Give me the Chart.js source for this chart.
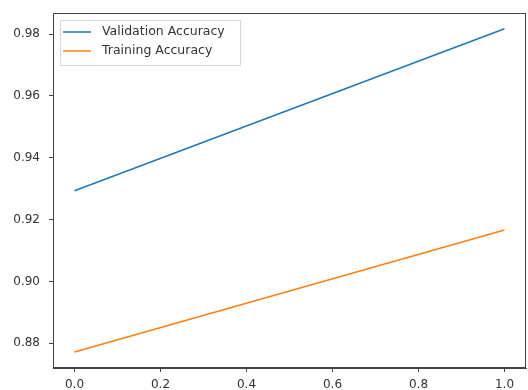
<!DOCTYPE html>
<html>
<head>
<meta charset="utf-8">
<script src="https://cdn.jsdelivr.net/npm/chart.js@4/dist/chart.umd.min.js"></script>
<style>
  html, body { margin: 0; padding: 0; background: #fff; }
  #wrap { width: 528px; height: 390px; }
</style>
</head>
<body>
<div id="wrap"><canvas id="accChart" width="528" height="390"></canvas></div>
<script>
// epochs and accuracy values
const epochs = [0.0, 1.0];
const valAcc = [0.9293, 0.9817];
const trainAcc = [0.8772, 0.9166];
const xTicks = [0.0, 0.2, 0.4, 0.6, 0.8, 1.0];
const yTicks = [0.88, 0.90, 0.92, 0.94, 0.96, 0.98];

const axisColor = '#444';
const textColor = '#333';

// box round the plot area plus a matplotlib style legend inside it
const framePlugin = {
    id: 'frame',
    afterDatasetsDraw(chart) {
        const ctx = chart.ctx;
        const a = chart.chartArea;
        ctx.save();
        ctx.strokeStyle = axisColor;
        ctx.lineWidth = 1;
        ctx.strokeRect(a.left + 0.5, a.top + 0.5, a.right - a.left - 1, a.bottom - a.top - 1);

        // legend
        const bx = a.left + 7, by = a.top + 7, bw = 180, bh = 45;
        ctx.fillStyle = 'rgba(255,255,255,0.8)';
        ctx.strokeStyle = '#d6d6d6';
        ctx.beginPath();
        ctx.rect(bx + 0.5, by + 0.5, bw, bh);
        ctx.fill();
        ctx.stroke();
        ctx.font = '12.5px "DejaVu Sans"';
        ctx.textBaseline = 'middle';
        chart.data.datasets.forEach((ds, i) => {
            const y = by + 12 + i * 19;
            ctx.strokeStyle = ds.borderColor;
            ctx.lineWidth = 1.5;
            ctx.beginPath();
            ctx.moveTo(bx + 3, y);
            ctx.lineTo(bx + 31, y);
            ctx.stroke();
            ctx.fillStyle = textColor;
            ctx.fillText(ds.label, bx + 42, y);
        });
        ctx.restore();
    }
};

const accCtx = document.getElementById('accChart').getContext('2d');
new Chart(accCtx, {
    type: 'line',
    data: {
        datasets: [{
            label: 'Validation Accuracy',
            data: epochs.map((e, i) => ({ x: e, y: valAcc[i] })),
            borderColor: '#1f77b4',
            borderWidth: 1.5,
            pointRadius: 0,
            fill: false
        }, {
            label: 'Training Accuracy',
            data: epochs.map((e, i) => ({ x: e, y: trainAcc[i] })),
            borderColor: '#ff7f0e',
            borderWidth: 1.5,
            pointRadius: 0,
            fill: false
        }]
    },
    options: {
        responsive: false,
        animation: false,
        layout: { padding: { top: 13, right: 2, left: 0, bottom: 0 } },
        plugins: {
            legend: { display: false },
            tooltip: { enabled: false }
        },
        scales: {
            x: {
                type: 'linear',
                min: -0.05,
                max: 1.05,
                afterBuildTicks: scale => { scale.ticks = xTicks.map(v => ({ value: v })); },
                afterFit: scale => { scale.height = 22; },
                grid: { drawOnChartArea: false, tickLength: 4, color: axisColor },
                border: { color: axisColor },
                ticks: {
                    color: textColor,
                    font: { family: 'DejaVu Sans', size: 12 },
                    padding: 6,
                    maxRotation: 0,
                    callback: v => v.toFixed(1)
                }
            },
            y: {
                min: 0.872,
                max: 0.9868,
                afterBuildTicks: scale => { scale.ticks = yTicks.map(v => ({ value: v })); },
                afterFit: scale => {
                    scale.width = 53;
                    scale.paddingTop = 0;
                    scale.paddingBottom = 0;
                },
                grid: { drawOnChartArea: false, tickLength: 4, color: axisColor },
                border: { color: axisColor },
                ticks: {
                    color: textColor,
                    font: { family: 'DejaVu Sans', size: 12 },
                    padding: 9,
                    callback: v => v.toFixed(2)
                }
            }
        }
    },
    plugins: [framePlugin]
});
</script>
</body>
</html>
